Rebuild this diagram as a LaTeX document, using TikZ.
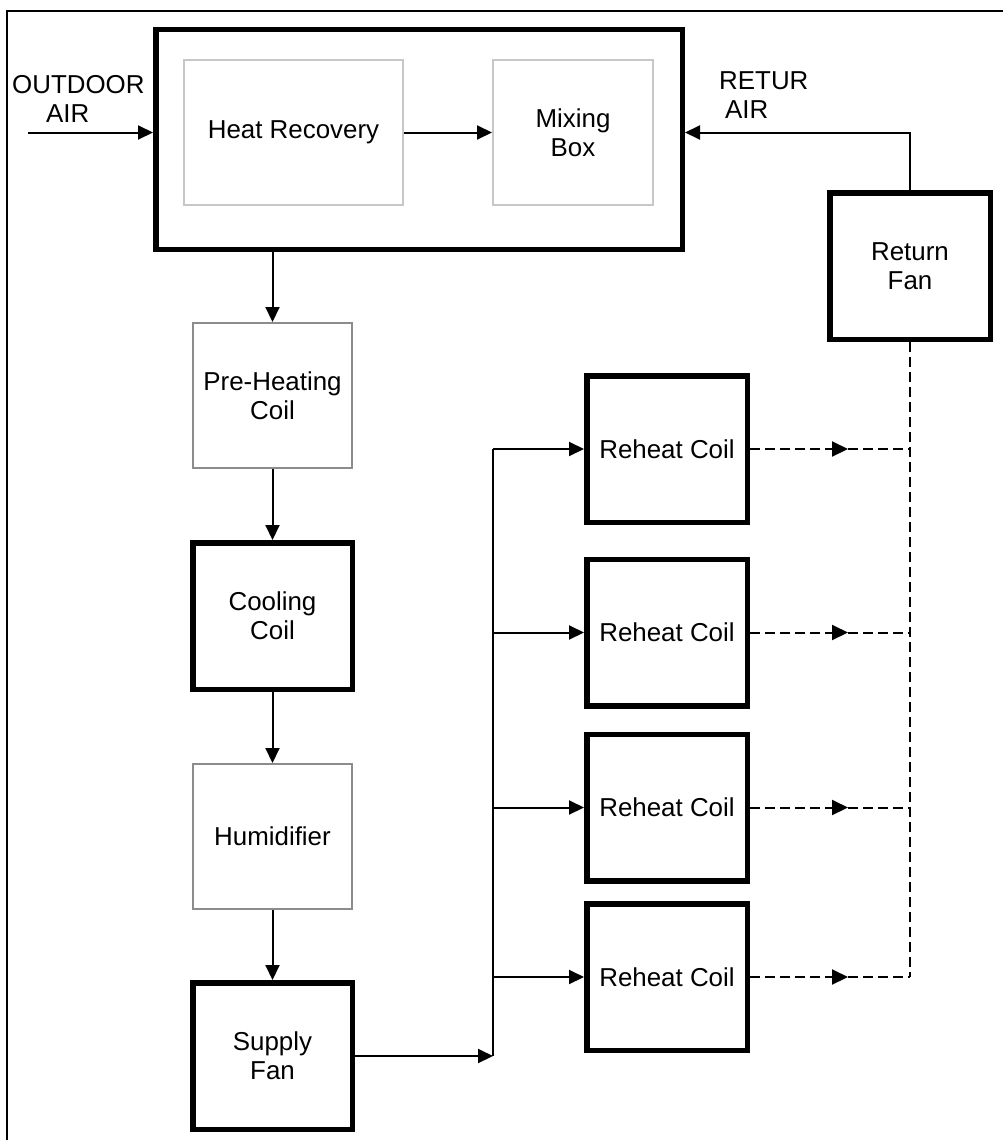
\documentclass[tikz,border=0pt]{standalone}
\usepackage{fontspec}
\setmainfont{Liberation Sans}
\usetikzlibrary{arrows.meta}
\begin{document}
\begin{tikzpicture}[x=1pt,y=-1pt,
  every node/.style={font=\fontsize{25.9}{29}\selectfont, inner sep=0pt, align=center, text=black},
  thickbox/.style={draw=black, line width=5.5pt, minimum width=160.5pt, minimum height=146.5pt},
  graybox/.style={draw=black!45, line width=2pt, minimum width=159pt, minimum height=145pt},
  lightbox/.style={draw=black!22, line width=2pt, minimum height=145pt},
  flow/.style={line width=2pt, -{Triangle[length=15pt,width=14pt]}},
  plain/.style={line width=2pt},
  retline/.style={line width=2pt, dash pattern=on 10pt off 5pt},
  retarrow/.style={line width=2pt, dash pattern=on 10pt off 5pt, -{Triangle[length=16pt,width=15pt]}},
]
\useasboundingbox (0,0) rectangle (1003,1140);
% frame
\coordinate (fbl) at (7,1141);
\coordinate (ftl) at (7,11);
\coordinate (ftr) at (1004,11);
\draw[line width=2pt] (fbl) -- (ftl) -- (ftr);

% nodes
\node[thickbox, minimum width=526.5pt, minimum height=219.5pt] (ahu) at (419,139.5) {};
\node[lightbox, minimum width=219pt] (hr) at (293.5,132.5) {Heat Recovery};
\node[lightbox, minimum width=160pt] (mb) at (573,132.5) {Mixing\\Box};
\node[thickbox] (rf) at (910,266) {Return\\Fan};
\node[graybox] (ph) at (272.5,395.5) {Pre-Heating\\Coil};
\node[thickbox, minimum width=159.5pt] (cc) at (272.5,616) {Cooling\\Coil};
\node[graybox] (hu) at (272.5,836.5) {Humidifier};
\node[thickbox, minimum width=159.5pt] (sf) at (272.5,1056) {Supply\\Fan};
\node[thickbox] (r1) at (667,449) {Reheat Coil};
\node[thickbox] (r2) at (667,632.5) {Reheat Coil};
\node[thickbox] (r3) at (667,807.5) {Reheat Coil};
\node[thickbox] (r4) at (667,977) {Reheat Coil};

% labels
\node[anchor=west, align=left] (oal) at (12,98.5) {OUTDOOR\\\hspace*{34pt}AIR};
\node[anchor=west, align=left] (ral) at (719,95.5) {RETUR\\\hspace*{6pt}AIR};

% connectors
\coordinate (oa) at (28,132.5);
\draw[flow] (oa) -- (oa -| ahu.west);
\draw[flow] (hr) -- (mb);
\draw[flow] (rf.north) |- (mb.east -| ahu.east);
\draw[flow] (ahu.south -| ph.north) -- (ph.north);
\draw[flow] (ph) -- (cc);
\draw[flow] (cc) -- (hu);
\draw[flow] (hu) -- (sf);
\coordinate (bus) at (493,1056);
\draw[flow] (sf.east) -- (bus);
\draw[plain] (bus) -- (bus |- r1.west);
\foreach \i in {1,2,3,4}{
  \draw[flow] (bus |- r\i.west) -- (r\i.west);
  \coordinate (m\i) at (r\i.east -| 848,0);
  \coordinate (j\i) at (r\i.east -| 910,0);
  \draw[retarrow] (r\i.east) -- (m\i);
  \draw[retline] (m\i) -- (j\i);
}
\draw[retline] (rf.south) -- (j4);
\end{tikzpicture}
\end{document}
